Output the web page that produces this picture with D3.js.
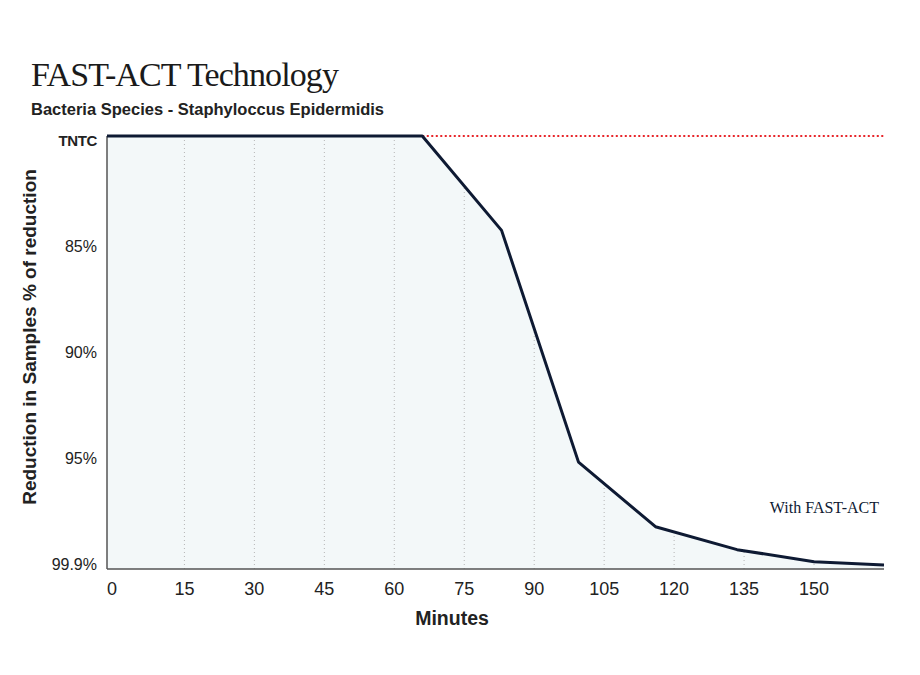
<!DOCTYPE html>
<html>
<head>
<meta charset="utf-8">
<script src="https://cdn.jsdelivr.net/npm/d3@7"></script>
<style>
	body{ margin: 0; background: #fff; }
	svg{ display: block; }
	.sans{ font-family: "Liberation Sans", Arial, sans-serif; }
	.serif{ font-family: "Liberation Serif", "Times New Roman", serif; }
</style>
</head>
<body>
<svg id="chart" width="920" height="675"></svg>
<script>
// minutes after start, and % reduction (80 stands for the TNTC level)
var minutes   = [-1.6, 66, 83, 99.5, 116, 133.5, 150, 165];
var reduction = [80, 80, 84.4, 95.2, 98.15, 99.2, 99.75, 99.9];

var xTicks = [0, 15, 30, 45, 60, 75, 90, 105, 120, 135, 150];
var gridTicks = [15, 30, 45, 60, 75, 90, 105, 120, 135, 150];
var yLevels = [80, 85, 90, 95, 99.9];
var yLabels = ["TNTC", "85%", "90%", "95%", "99.9%"];

var tntcLevel = 80;

var widthVis = 920, heightVis = 675;
var plotLeft = 107, plotRight = 884, plotTop = 136, plotBottom = 569;

var svg = d3.select("#chart");

var x = d3.scaleLinear()
	.domain([minutes[0], minutes[minutes.length - 1]])
	.range([plotLeft, plotRight]);

// the levels are evenly spaced on screen, not by value
var y = d3.scaleLinear()
	.domain(yLevels)
	.range(yLevels.map(function(d, i){
		return plotTop + i * 107.25;
	}));

var data = minutes.map(function(m, i){
	return {m: m, r: reduction[i]};
});

// title
svg.append("text")
	.attr("class", "serif")
	.attr("x", 31)
	.attr("y", 86)
	.attr("font-size", 34)
	.attr("letter-spacing", -0.9)
	.attr("fill", "#1a1a1a")
	.text("FAST-ACT Technology");

svg.append("text")
	.attr("class", "sans")
	.attr("x", 31)
	.attr("y", 115)
	.attr("font-size", 16.5)
	.attr("font-weight", "bold")
	.attr("fill", "#222")
	.text("Bacteria Species - Staphyloccus Epidermidis");

// area under the curve
var area = d3.area()
	.x(function(d){ return x(d.m); })
	.y0(plotBottom)
	.y1(function(d){ return y(d.r); });

svg.append("clipPath")
	.attr("id", "areaClip")
	.append("path")
	.attr("d", area(data));

svg.append("path")
	.attr("d", area(data))
	.attr("fill", "#f3f8f9");

// dotted grid only shows inside the filled area
svg.append("g")
	.attr("clip-path", "url(#areaClip)")
	.selectAll("line")
	.data(gridTicks)
	.enter()
	.append("line")
	.attr("x1", function(d){ return x(d); })
	.attr("x2", function(d){ return x(d); })
	.attr("y1", plotTop)
	.attr("y2", plotBottom)
	.attr("stroke", "#b5b5b5")
	.attr("stroke-width", 1)
	.attr("stroke-dasharray", "1,3");

// red dotted TNTC line
svg.append("line")
	.attr("x1", x(minutes[1]))
	.attr("x2", x(minutes[minutes.length - 1]))
	.attr("y1", y(tntcLevel))
	.attr("y2", y(tntcLevel))
	.attr("stroke", "#e8262b")
	.attr("stroke-width", 2)
	.attr("stroke-dasharray", "2,2.5");

// axes lines
svg.append("line")
	.attr("x1", plotLeft).attr("x2", plotLeft)
	.attr("y1", plotTop).attr("y2", plotBottom)
	.attr("stroke", "#555").attr("stroke-width", 1.5);

svg.append("line")
	.attr("x1", plotLeft).attr("x2", x(minutes[minutes.length - 1]))
	.attr("y1", plotBottom).attr("y2", plotBottom)
	.attr("stroke", "#555").attr("stroke-width", 1.5);

// the curve
var line = d3.line()
	.x(function(d){ return x(d.m); })
	.y(function(d){ return y(d.r); });

svg.append("path")
	.attr("d", line(data))
	.attr("fill", "none")
	.attr("stroke", "#0e1a33")
	.attr("stroke-width", 3)
	.attr("stroke-linejoin", "round");

// y tick labels
svg.append("g")
	.selectAll("text")
	.data(yLevels)
	.enter()
	.append("text")
	.attr("class", "sans")
	.attr("x", plotLeft - 10)
	.attr("y", function(d, i){ return y(d) + 5 - i * 1.375; })
	.attr("dy", "0.35em")
	.attr("text-anchor", "end")
	.attr("font-size", function(d, i){ return i === 0 ? 15 : 16; })
	.attr("font-weight", function(d, i){ return i === 0 ? "bold" : "normal"; })
	.attr("letter-spacing", function(d, i){ return i === 0 ? -0.4 : 0; })
	.attr("fill", "#222")
	.text(function(d, i){ return yLabels[i]; });

// x tick labels
svg.append("g")
	.selectAll("text")
	.data(xTicks)
	.enter()
	.append("text")
	.attr("class", "sans")
	.attr("x", function(d){ return d === 0 ? x(d) - 2.5 : x(d); })
	.attr("y", 595)
	.attr("text-anchor", "middle")
	.attr("font-size", 18)
	.attr("fill", "#222")
	.text(function(d){ return d; });

// axis titles
svg.append("text")
	.attr("class", "sans")
	.attr("x", 452)
	.attr("y", 625)
	.attr("text-anchor", "middle")
	.attr("font-size", 19.5)
	.attr("font-weight", "bold")
	.attr("fill", "#222")
	.text("Minutes");

svg.append("text")
	.attr("class", "sans")
	.attr("transform", "translate(36,337) rotate(-90)")
	.attr("text-anchor", "middle")
	.attr("font-size", 19)
	.attr("font-weight", "bold")
	.attr("fill", "#222")
	.text("Reduction in Samples % of reduction");

// series label
svg.append("text")
	.attr("class", "serif")
	.attr("x", 879)
	.attr("y", 512.5)
	.attr("text-anchor", "end")
	.attr("font-size", 16)
	.attr("fill", "#0e1a33")
	.text("With FAST-ACT");
</script>
</body>
</html>
